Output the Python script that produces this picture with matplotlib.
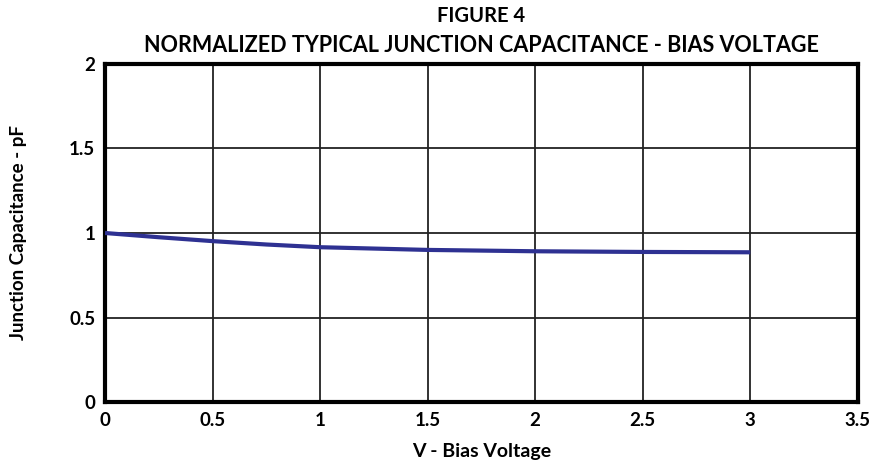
import numpy as np
import matplotlib.pyplot as plt

plt.rcParams['font.family'] = ['Lato', 'DejaVu Sans']

# data
bias_v = [0, 0.25, 0.5, 0.75, 1.0, 1.5, 2.0, 2.5, 3.0]
cap_pf = [1.0, 0.975, 0.952, 0.932, 0.916, 0.900, 0.892, 0.888, 0.886]

xticks = [0, 0.5, 1, 1.5, 2, 2.5, 3, 3.5]
xtick_labels = ['0', '0.5', '1', '1.5', '2', '2.5', '3', '3.5']
yticks = [0, 0.5, 1, 1.5, 2]
ytick_labels = ['0', '0.5', '1', '1.5', '2']

fig = plt.figure(figsize=(8.78, 4.66), dpi=100)
ax = fig.add_axes([0.1196, 0.137, 0.8574, 0.726])

ax.plot(bias_v, cap_pf, color='#2E3192', lw=3, solid_capstyle='butt', zorder=3)

ax.set_xlim(0, 3.5)
ax.set_ylim(0, 2)
ax.set_xticks(xticks)
ax.set_xticklabels(xtick_labels)
ax.set_yticks(yticks)
ax.set_yticklabels(ytick_labels)
ax.tick_params(length=0, labelsize=13.5, pad=7)
for lbl in ax.get_xticklabels() + ax.get_yticklabels():
    lbl.set_fontweight('bold')

ax.grid(True, color='#222222', lw=1.3)
for s in ax.spines.values():
    s.set_linewidth(3)
    s.set_color('black')

ax.set_xlabel('V - Bias Voltage', fontsize=14, fontweight='bold', labelpad=10)
fig.text(0.021, 0.5, 'Junction Capacitance - pF', rotation=90, ha='center', va='center',
         fontsize=13.5, fontweight='bold')

fig.text(0.548, 0.965, 'FIGURE 4', ha='center', va='center', fontsize=14.5, fontweight='bold')
fig.text(0.548, 0.903, 'NORMALIZED TYPICAL JUNCTION CAPACITANCE - BIAS VOLTAGE',
         ha='center', va='center', fontsize=15.5, fontweight='bold')

fig.savefig('out.png', dpi=100)
